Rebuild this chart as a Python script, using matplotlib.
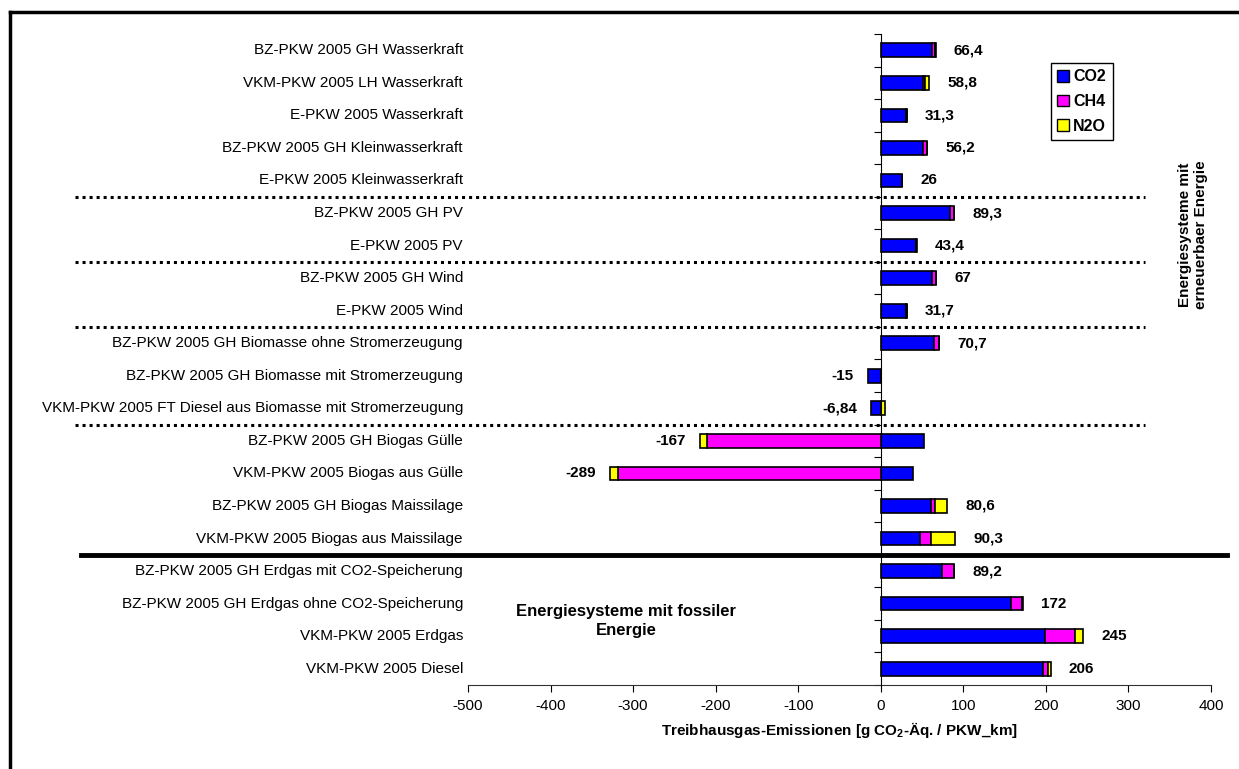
import numpy as np
import matplotlib.pyplot as plt
from matplotlib.transforms import blended_transform_factory
from matplotlib.lines import Line2D
from matplotlib.patches import Patch

plt.rcParams['font.family'] = ['Liberation Sans', 'DejaVu Sans']
plt.rcParams['mathtext.fontset'] = 'custom'
plt.rcParams['mathtext.rm'] = 'Liberation Sans'
plt.rcParams['mathtext.bf'] = 'Liberation Sans:bold'
plt.rcParams['axes.unicode_minus'] = False

categories = ['BZ-PKW 2005 GH Wasserkraft',
              'VKM-PKW 2005 LH Wasserkraft',
              'E-PKW 2005 Wasserkraft',
              'BZ-PKW 2005 GH Kleinwasserkraft',
              'E-PKW 2005 Kleinwasserkraft',
              'BZ-PKW 2005 GH PV',
              'E-PKW 2005 PV',
              'BZ-PKW 2005 GH Wind',
              'E-PKW 2005 Wind',
              'BZ-PKW 2005 GH Biomasse ohne Stromerzeugung',
              'BZ-PKW 2005 GH Biomasse mit Stromerzeugung',
              'VKM-PKW 2005 FT Diesel aus Biomasse mit Stromerzeugung',
              'BZ-PKW 2005 GH Biogas Gülle',
              'VKM-PKW 2005 Biogas aus Gülle',
              'BZ-PKW 2005 GH Biogas Maissilage',
              'VKM-PKW 2005 Biogas aus Maissilage',
              'BZ-PKW 2005 GH Erdgas mit CO2-Speicherung',
              'BZ-PKW 2005 GH Erdgas ohne CO2-Speicherung',
              'VKM-PKW 2005 Erdgas',
              'VKM-PKW 2005 Diesel']

co2 = [61.5, 51.0, 30.8, 51.5, 25.5, 84.0, 42.5, 62.0, 31.0, 65.0,
       -15.8, -11.5, 52.0, 38.5, 61.0, 47.0, 74.0, 158.0, 199.0, 197.0]
ch4 = [4.5, 3.0, 0.4, 4.0, 0.4, 4.5, 0.7, 4.3, 0.5, 5.0,
       0.5, 0.3, -210.0, -318.0, 4.5, 13.5, 14.5, 13.5, 36.0, 5.0]
n2o = [0.4, 4.8, 0.1, 0.7, 0.1, 0.8, 0.2, 0.7, 0.2, 0.7,
       0.3, 4.4, -9.0, -9.5, 15.1, 29.8, 0.7, 0.5, 10.0, 4.0]
totals = [66.4, 58.8, 31.3, 56.2, 26, 89.3, 43.4, 67, 31.7, 70.7,
          -15, -6.84, -167, -289, 80.6, 90.3, 89.2, 172, 245, 206]

series = [('CO2', co2, '#0000FF'), ('CH4', ch4, '#FF00FF'), ('N2O', n2o, '#FFFF00')]

fig = plt.figure(figsize=(12.39, 7.69), dpi=100)
ax = fig.add_axes([468 / 1239, 1 - 685 / 769, (1211 - 468) / 1239, (685 - 34) / 769])

y = np.arange(len(categories))
pos_base = np.zeros(len(categories))
neg_base = np.zeros(len(categories))
for name, vals, col in series:
    vals = np.array(vals)
    left = np.where(vals >= 0, pos_base, neg_base)
    ax.barh(y, vals, left=left, height=0.42, color=col, edgecolor='black',
            linewidth=1.2, label=name, zorder=3)
    pos_base = pos_base + np.clip(vals, 0, None)
    neg_base = neg_base + np.clip(vals, None, 0)

# value labels
for i, t in enumerate(totals):
    s = ('%g' % t).replace('.', ',')
    if t >= 0:
        ax.annotate(s, (pos_base[i], i), xytext=(18, 0), textcoords='offset pixels',
                    ha='left', va='center', fontsize=11, fontweight='bold')
    else:
        ax.annotate(s, (neg_base[i], i), xytext=(-14, 0), textcoords='offset pixels',
                    ha='right', va='center', fontsize=11, fontweight='bold')

ax.set_xlim(-500, 400)
ax.set_ylim(len(categories) - 0.5, -0.5)
ax.set_xticks(np.arange(-500, 401, 100))
ax.tick_params(axis='x', direction='out', length=5, labelsize=11, pad=5)

ax.spines['left'].set_position(('data', 0))
ax.spines['left'].set_zorder(4)
ax.spines['top'].set_visible(False)
ax.spines['right'].set_visible(False)
ax.spines['bottom'].set_color('#333333')
ax.set_yticks(np.arange(-0.5, len(categories), 1.0))
ax.set_yticklabels([])
ax.tick_params(axis='y', direction='out', length=5)

# category labels
trans = blended_transform_factory(fig.transFigure, ax.transData)
for i, c in enumerate(categories):
    ax.text(463 / 1239, i, c, transform=trans, ha='right', va='center', fontsize=11)

ax.set_xlabel(r'Treibhausgas-Emissionen [g CO$_\mathbf{2}$-Äq. / PKW_km]',
              fontsize=11, fontweight='bold', labelpad=5)

# group separators
for b in [4.5, 6.5, 8.5, 11.5]:
    ax.add_line(Line2D([75 / 1239, 1145 / 1239], [b, b], transform=trans,
                       color='black', linestyle=(0, (1, 1.3)), linewidth=2.2,
                       clip_on=False))
ax.add_line(Line2D([81 / 1239, 1227 / 1239], [15.5, 15.5], transform=trans,
                   color='black', linewidth=3.5, clip_on=False))

handles = [Patch(facecolor=c, edgecolor='black', label=n) for n, v, c in series]
leg = ax.legend(handles=handles, loc='upper left',
                bbox_to_anchor=(1051 / 1239, 1 - 63 / 769), bbox_transform=fig.transFigure,
                fancybox=False, edgecolor='black', framealpha=1,
                prop={'size': 11.5, 'weight': 'bold'}, handlelength=0.75, handleheight=0.75,
                handletextpad=0.25, labelspacing=0.6, borderpad=0.4, borderaxespad=0)
leg.get_frame().set_linewidth(1.0)

fig.text(626 / 1239, 1 - 621 / 769, 'Energiesysteme mit fossiler\nEnergie',
         ha='center', va='center', fontsize=12, fontweight='bold', multialignment='center',
         linespacing=1.4)
fig.text(1193 / 1239, 1 - 235 / 769, 'Energiesysteme mit\nerneuerbaer Energie',
         ha='center', va='center', rotation=90, fontsize=11, fontweight='bold',
         multialignment='center')

# outer frame
fig.add_artist(Line2D([10 / 1239, 10 / 1239], [0, 1 - 12 / 769], transform=fig.transFigure,
                      color='black', linewidth=2.5))
fig.add_artist(Line2D([10 / 1239, 1], [1 - 12 / 769, 1 - 12 / 769], transform=fig.transFigure,
                      color='black', linewidth=2.5))

fig.savefig('out.png', dpi=100)
